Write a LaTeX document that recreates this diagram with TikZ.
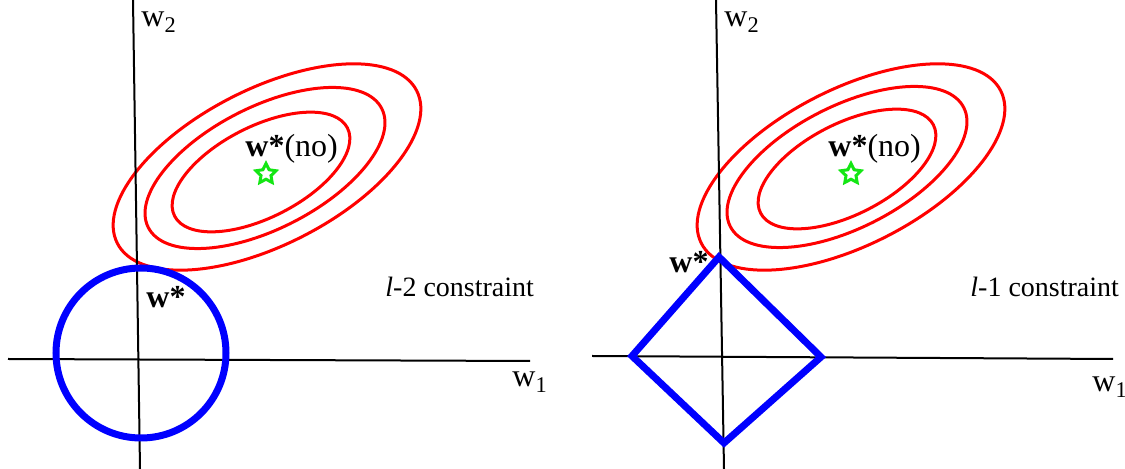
\documentclass[tikz,border=0pt]{standalone}
\usepackage{fontspec}
\setmainfont{Liberation Serif}
\usetikzlibrary{shapes.geometric}

\definecolor{starGreen}{RGB}{20,230,20}

\tikzset{
  axis/.style={line width=1pt, black},
  contour/.style={line width=1.5pt, red},
  constr/.style={line width=3.5pt, blue, line join=miter},
  optimum/.style={star, star points=5, star point ratio=2, draw=starGreen,
    fill=white, line width=1.5pt, minimum size=10.5pt, inner sep=0pt},
  lbl/.style={font=\fontsize{16}{18}\selectfont, inner sep=0pt, anchor=base west},
  constrlbl/.style={font=\fontsize{14}{16}\selectfont, inner sep=0pt, anchor=base west}
}

\begin{document}
\begin{tikzpicture}[x=0.5pt, y=-0.5pt]
  \useasboundingbox (0,0) rectangle (1125,469);

  % ---- left panel: l-2 ----
  \coordinate (Lc) at (267,167);
  \draw[contour, rotate around={27:(Lc)}] (Lc) ellipse [x radius=168, y radius=78];
  \draw[contour, rotate around={27:(265,168)}] (265,168) ellipse [x radius=131, y radius=61];
  \draw[contour, rotate around={27:(261,172)}] (261,172) ellipse [x radius=97, y radius=45.5];

  % axes
  \draw[axis] (8,359) -- (530,361);
  \draw[axis] (133,0) -- (140,469);

  % constraint region
  \draw[constr] (141,353) circle [radius=85];

  \node[optimum] (Lstar) at (266,174) {};
  \node[lbl] (Lno) at (245,157) {\textbf{w*}(no)};
  \node[lbl] (Lw) at (146,308) {\textbf{w*}};
  \node[constrlbl] (Lname) at (385,297) {\textit{l}-2 constraint};
  \node[lbl] (Lw2) at (141,27) {w\textsubscript{2}};
  \node[lbl] (Lw1) at (512,387) {w\textsubscript{1}};

  % ---- right panel: l-1 ----
  \coordinate (Rc) at (851,167);
  \draw[contour, rotate around={27:(Rc)}] (Rc) ellipse [x radius=168, y radius=78];
  \draw[contour, rotate around={27:(847,167)}] (847,167) ellipse [x radius=131, y radius=61];
  \draw[contour, rotate around={27:(847,169)}] (847,169) ellipse [x radius=97, y radius=45.5];

  % axes
  \draw[axis] (592,356) -- (1113,359);
  \draw[axis] (716,0) -- (724,469);

  % constraint region
  \coordinate (Rtop) at (719,257);
  \coordinate (Rright) at (821,357);
  \coordinate (Rbot) at (724,443);
  \coordinate (Rleft) at (632,356);
  \draw[constr] (Rtop) -- (Rright) -- (Rbot) -- (Rleft) -- cycle;

  \node[optimum] (Rstar) at (851,174) {};
  \node[lbl] (Rno) at (828,157) {\textbf{w*}(no)};
  \node[lbl] (Rw) at (669,273) {\textbf{w*}};
  \node[constrlbl] (Rname) at (970,297) {\textit{l}-1 constraint};
  \node[lbl] (Rw2) at (724,27) {w\textsubscript{2}};
  \node[lbl] (Rw1) at (1092,392) {w\textsubscript{1}};
\end{tikzpicture}
\end{document}
